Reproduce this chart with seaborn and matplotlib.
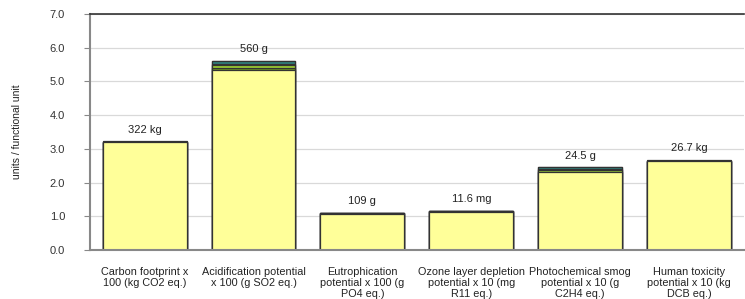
import numpy as np
import pandas as pd
import seaborn as sns
import matplotlib.pyplot as plt

# categories (x tick labels)
categories = ['Carbon footprint x\n100 (kg CO2 eq.)',
              'Acidification potential\nx 100 (g SO2 eq.)',
              'Eutrophication\npotential x 100 (g\nPO4 eq.)',
              'Ozone layer depletion\npotential x 10 (mg\nR11 eq.)',
              'Photochemical smog\npotential x 10 (g\nC2H4 eq.)',
              'Human toxicity\npotential x 10 (kg\nDCB eq.)']

# stacked segments, bottom to top
yellow = [3.19, 5.35, 1.07, 1.13, 2.32, 2.65]
olive = [0.00, 0.05, 0.02, 0.03, 0.00, 0.00]
green = [0.00, 0.08, 0.00, 0.00, 0.06, 0.00]
dark_green = [0.00, 0.04, 0.00, 0.00, 0.03, 0.00]
teal = [0.00, 0.08, 0.00, 0.00, 0.04, 0.00]
black = [0.03, 0.00, 0.00, 0.00, 0.00, 0.02]

totals_text = ['322 kg', '560 g', '109 g', '11.6 mg', '24.5 g', '26.7 kg']

segments = [('yellow', yellow, '#FFFF99'),
            ('olive', olive, '#6B8E23'),
            ('green', green, '#9ACD32'),
            ('dark_green', dark_green, '#3B6E2A'),
            ('teal', teal, '#2F7F7A'),
            ('black', black, '#111111')]

sns.set_style('white')
plt.rcParams['font.family'] = ['Liberation Sans', 'DejaVu Sans']

fig = plt.figure(figsize=(7.45, 2.99), dpi=100)
ax = fig.add_axes([0.121, 0.164, 0.877, 0.789])

# cumulative heights, drawn top segment first so lower ones cover it
cum = np.cumsum([s[1] for s in segments], axis=0)
for i in range(len(segments) - 1, -1, -1):
    df = pd.DataFrame({'cat': categories, 'val': cum[i]})
    sns.barplot(data=df, x='cat', y='val', color=segments[i][2], width=0.77,
                edgecolor='#333333', linewidth=0.9, saturation=1, ax=ax)

totals = cum[-1]
for i, t in enumerate(totals_text):
    ax.text(i, totals[i] + 0.2, t, ha='center', va='bottom', fontsize=8, color='#222222')

ax.set_xlim(-0.5, 5.5)
ax.set_ylim(0, 7)
ax.set_yticks(np.arange(0, 7.1, 1.0))
ax.set_yticklabels(['%.1f' % v for v in np.arange(0, 7.1, 1.0)])
ax.yaxis.grid(True, color='#d9d9d9', linewidth=0.9)
ax.set_axisbelow(True)
ax.set_xlabel('')
ax.set_ylabel('units / functional unit', fontsize=7.5, color='#222222', labelpad=20)
ax.tick_params(axis='y', labelsize=8, colors='#333333', left=True, length=4, width=0.8,
               color='#888888', pad=14)
ax.tick_params(axis='x', labelsize=7.8, colors='#222222', bottom=False, pad=9)
for lab in ax.get_xticklabels():
    lab.set_linespacing(1.08)

ax.spines['left'].set_color('#888888')
ax.spines['left'].set_linewidth(1.5)
ax.spines['bottom'].set_color('#888888')
ax.spines['bottom'].set_linewidth(1.5)
ax.spines['top'].set_color('#333333')
ax.spines['top'].set_linewidth(1.2)
ax.spines['right'].set_visible(False)

fig.savefig('out.png', dpi=100)
